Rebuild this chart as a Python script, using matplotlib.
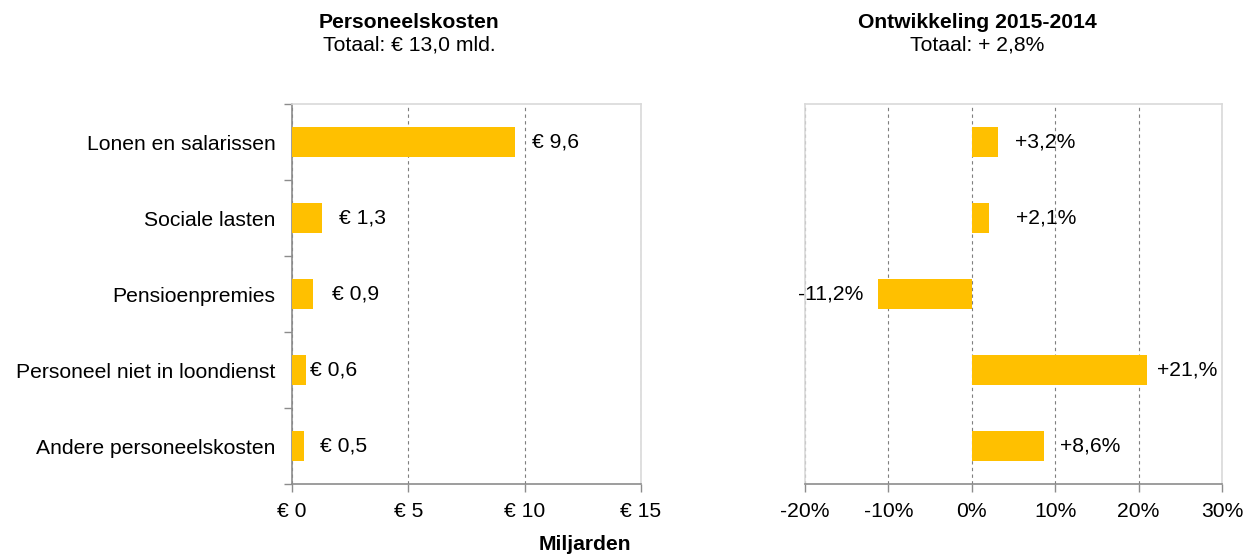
import matplotlib
matplotlib.use("Agg")
import matplotlib.pyplot as plt
import numpy as np

plt.rcParams['font.family'] = ['Liberation Sans', 'DejaVu Sans']

categories = ["Lonen en salarissen", "Sociale lasten", "Pensioenpremies",
              "Personeel niet in loondienst", "Andere personeelskosten"]
kosten = [9.6, 1.3, 0.9, 0.6, 0.5]
kosten_labels = ["€ 9,6", "€ 1,3", "€ 0,9", "€ 0,6", "€ 0,5"]
ontw = [3.2, 2.1, -11.2, 21.0, 8.6]
ontw_labels = ["+3,2%", "+2,1%", "-11,2%", "+21,%", "+8,6%"]
left_ticks = [0, 5, 10, 15]
left_ticklabels = ["€ 0", "€ 5", "€ 10", "€ 15"]
right_ticks = [-20, -10, 0, 10, 20, 30]
right_ticklabels = ["-20%", "-10%", "0%", "10%", "20%", "30%"]

# style: label offsets in points
left_off = [12, 12, 14, 3, 12]
right_off = [12, 19, -11, 7, 12]

BAR = "#FFC000"
FS = 15.2
W, H = 1247, 556
fig = plt.figure(figsize=(W/100, H/100), dpi=100)

def px(x0, x1, y0, y1):
    return [x0/W, 1 - y1/H, (x1-x0)/W, (y1-y0)/H]

ax1 = fig.add_axes(px(292, 641, 104, 484))
ax2 = fig.add_axes(px(805, 1222, 104, 484))

y = np.arange(len(categories))

for ax in (ax1, ax2):
    ax.set_ylim(len(categories) - 0.5, -0.5)
    for s in ("top", "right"):
        ax.spines[s].set_color("#d9d9d9")
        ax.spines[s].set_linewidth(1.2)
    ax.spines["bottom"].set_color("#8c8c8c")
    ax.spines["bottom"].set_linewidth(1.2)
    ax.tick_params(axis="x", direction="out", length=6, width=1.0, color="#8c8c8c",
                   labelsize=FS, pad=7)
    ax.grid(axis="x", linestyle=(0, (3, 3)), color="#7f7f7f", linewidth=0.8)
    ax.set_axisbelow(True)

# Left chart
ax1.barh(y, kosten, height=0.4, color=BAR, zorder=3)
ax1.set_xlim(0, 15)
ax1.set_xticks(left_ticks)
ax1.set_xticklabels(left_ticklabels)
ax1.set_yticks(y)
ax1.set_yticklabels(categories, fontsize=FS)
ax1.set_yticks(np.arange(-0.5, len(categories), 1), minor=True)
ax1.tick_params(axis="y", which="major", length=0, pad=12)
ax1.tick_params(axis="y", which="minor", length=6, width=1.0, color="#8c8c8c", direction="out")
ax1.spines["left"].set_color("#8c8c8c")
ax1.spines["left"].set_linewidth(1.2)
for i, (v, lab) in enumerate(zip(kosten, kosten_labels)):
    ax1.annotate(lab, (v, i), xytext=(left_off[i], 0), textcoords="offset points",
                 va="center", ha="left", fontsize=FS)

# Right chart
ax2.barh(y, ontw, height=0.4, color=BAR, zorder=3)
ax2.set_xlim(-20, 30)
ax2.set_xticks(right_ticks)
ax2.set_xticklabels(right_ticklabels)
ax2.set_yticks([])
ax2.spines["left"].set_color("#d9d9d9")
ax2.spines["left"].set_linewidth(1.2)
for i, (v, lab) in enumerate(zip(ontw, ontw_labels)):
    ax2.annotate(lab, (v, i), xytext=(right_off[i], 0), textcoords="offset points",
                 va="center", ha="left" if v >= 0 else "right", fontsize=FS)

# Titles
fig.text(409/W, 1 - 22/H, "Personeelskosten", ha="center", va="center",
         fontsize=FS, fontweight="bold")
fig.text(409/W, 1 - 45/H, "Totaal: € 13,0 mld.", ha="center", va="center", fontsize=FS)
fig.text(977/W, 1 - 22/H, "Ontwikkeling 2015-2014", ha="center", va="center",
         fontsize=FS, fontweight="bold")
fig.text(977/W, 1 - 45/H, "Totaal: + 2,8%", ha="center", va="center", fontsize=FS)
fig.text(585/W, 1 - 544/H, "Miljarden", ha="center", va="center",
         fontsize=FS, fontweight="bold")

fig.savefig("out.png", dpi=100)
